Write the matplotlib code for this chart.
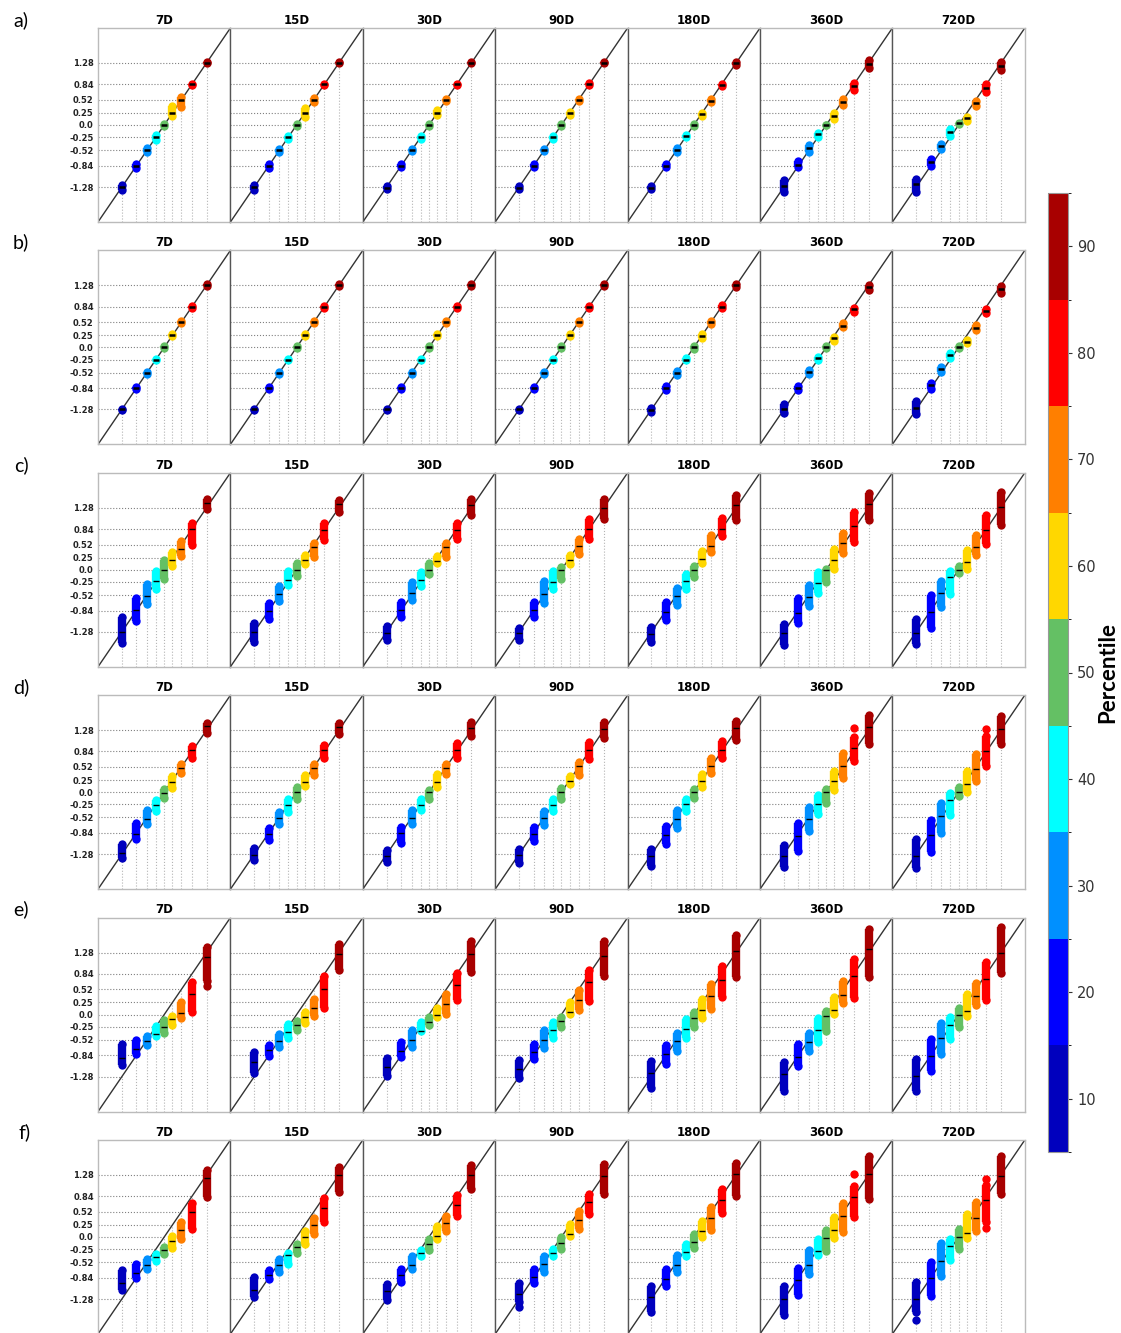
import numpy as np
import matplotlib.pyplot as plt
from matplotlib.colors import ListedColormap, BoundaryNorm
from matplotlib.cm import ScalarMappable

# --------------------------------------------------
# axes / labels

quantiles = [-1.28, -0.84, -0.52, -0.25, 0.0, 0.25, 0.52, 0.84, 1.28]
tick_labels = ['-1.28', '-0.84', '-0.52', '-0.25', '0.0', '0.25', '0.52', '0.84', '1.28']
percentiles = [10, 20, 30, 40, 50, 60, 70, 80, 90]
pct_colors = ['#0000BE', '#0000FF', '#0090FF', '#00FFFF', '#64C064',
              '#FFD700', '#FF7F00', '#FF0000', '#A80000']
windows = ['7D', '15D', '30D', '90D', '180D', '360D', '720D']
row_names = ['a)', 'b)', 'c)', 'd)', 'e)', 'f)']

# --------------------------------------------------
# data: per row, per window (7) -> 9 percentiles: lowest, highest, median

a_lo = [[-1.35, -0.89, -0.56, -0.30, -0.03, 0.18, 0.38, 0.83, 1.27],
        [-1.34, -0.89, -0.55, -0.28, -0.03, 0.17, 0.47, 0.83, 1.27],
        [-1.32, -0.87, -0.54, -0.28, -0.03, 0.21, 0.50, 0.83, 1.27],
        [-1.32, -0.87, -0.54, -0.28, -0.03, 0.21, 0.50, 0.83, 1.27],
        [-1.32, -0.87, -0.55, -0.25, -0.03, 0.19, 0.47, 0.81, 1.24],
        [-1.39, -0.87, -0.56, -0.25, -0.01, 0.12, 0.42, 0.72, 1.17],
        [-1.39, -0.85, -0.49, -0.22, 0.03, 0.09, 0.40, 0.69, 1.14]]
a_hi = [[-1.24, -0.81, -0.48, -0.21, 0.03, 0.40, 0.58, 0.85, 1.29],
        [-1.24, -0.81, -0.50, -0.23, 0.03, 0.36, 0.55, 0.85, 1.29],
        [-1.26, -0.81, -0.50, -0.23, 0.03, 0.30, 0.54, 0.85, 1.29],
        [-1.26, -0.81, -0.50, -0.23, 0.03, 0.26, 0.54, 0.86, 1.29],
        [-1.25, -0.80, -0.47, -0.21, 0.03, 0.25, 0.53, 0.85, 1.30],
        [-1.13, -0.74, -0.41, -0.16, 0.01, 0.25, 0.54, 0.87, 1.33],
        [-1.12, -0.70, -0.40, -0.09, 0.05, 0.17, 0.49, 0.85, 1.30]]
a_med = [[-1.28, -0.84, -0.52, -0.25, 0.0, 0.25, 0.52, 0.84, 1.28],
         [-1.28, -0.84, -0.52, -0.25, 0.0, 0.25, 0.52, 0.84, 1.28],
         [-1.29, -0.84, -0.52, -0.25, 0.0, 0.25, 0.52, 0.84, 1.28],
         [-1.29, -0.84, -0.52, -0.25, 0.0, 0.24, 0.52, 0.84, 1.28],
         [-1.29, -0.84, -0.51, -0.23, 0.0, 0.22, 0.50, 0.83, 1.27],
         [-1.26, -0.82, -0.48, -0.19, 0.01, 0.19, 0.48, 0.80, 1.25],
         [-1.22, -0.76, -0.43, -0.14, 0.04, 0.14, 0.45, 0.77, 1.22]]

b_lo = [[-1.30, -0.86, -0.54, -0.27, -0.02, 0.23, 0.50, 0.82, 1.26],
        [-1.30, -0.86, -0.54, -0.27, -0.02, 0.23, 0.50, 0.82, 1.26],
        [-1.30, -0.86, -0.54, -0.27, -0.02, 0.23, 0.50, 0.82, 1.26],
        [-1.30, -0.86, -0.54, -0.27, -0.02, 0.23, 0.50, 0.82, 1.26],
        [-1.33, -0.88, -0.56, -0.27, -0.03, 0.20, 0.49, 0.81, 1.25],
        [-1.35, -0.87, -0.54, -0.25, -0.02, 0.14, 0.42, 0.72, 1.19],
        [-1.37, -0.85, -0.51, -0.22, -0.02, 0.09, 0.36, 0.71, 1.13]]
b_hi = [[-1.26, -0.82, -0.50, -0.23, 0.02, 0.27, 0.54, 0.86, 1.30],
        [-1.26, -0.82, -0.50, -0.23, 0.02, 0.27, 0.54, 0.86, 1.30],
        [-1.26, -0.82, -0.50, -0.23, 0.02, 0.27, 0.54, 0.86, 1.30],
        [-1.26, -0.82, -0.50, -0.23, 0.02, 0.27, 0.54, 0.86, 1.30],
        [-1.24, -0.80, -0.49, -0.22, 0.03, 0.27, 0.55, 0.87, 1.31],
        [-1.17, -0.79, -0.47, -0.19, 0.02, 0.22, 0.51, 0.82, 1.28],
        [-1.11, -0.74, -0.40, -0.12, 0.02, 0.16, 0.46, 0.80, 1.26]]
b_med = [[-1.28, -0.84, -0.52, -0.25, 0.0, 0.25, 0.52, 0.84, 1.28],
         [-1.28, -0.84, -0.52, -0.25, 0.0, 0.25, 0.52, 0.84, 1.28],
         [-1.28, -0.84, -0.52, -0.25, 0.0, 0.25, 0.52, 0.84, 1.28],
         [-1.28, -0.84, -0.52, -0.25, 0.0, 0.25, 0.52, 0.84, 1.28],
         [-1.29, -0.84, -0.52, -0.25, 0.0, 0.24, 0.52, 0.84, 1.28],
         [-1.27, -0.83, -0.50, -0.21, 0.0, 0.19, 0.45, 0.79, 1.25],
         [-1.25, -0.78, -0.45, -0.16, 0.01, 0.12, 0.41, 0.76, 1.20]]

c_lo = [[-1.51, -1.05, -0.70, -0.39, -0.18, 0.07, 0.28, 0.52, 1.25],
        [-1.49, -1.01, -0.65, -0.32, -0.13, 0.11, 0.26, 0.61, 1.19],
        [-1.45, -0.97, -0.63, -0.33, -0.08, 0.13, 0.26, 0.63, 1.14],
        [-1.45, -0.97, -0.68, -0.39, -0.18, 0.11, 0.33, 0.63, 1.05],
        [-1.49, -1.04, -0.73, -0.39, -0.15, 0.13, 0.37, 0.69, 1.03],
        [-1.56, -1.09, -0.75, -0.48, -0.26, 0.02, 0.35, 0.57, 1.02],
        [-1.52, -1.20, -0.77, -0.49, -0.06, 0.01, 0.30, 0.53, 0.92]]
c_hi = [[-0.97, -0.59, -0.29, -0.02, 0.20, 0.37, 0.59, 0.97, 1.45],
        [-1.09, -0.68, -0.33, -0.02, 0.15, 0.30, 0.56, 0.97, 1.44],
        [-1.16, -0.66, -0.25, -0.04, 0.15, 0.29, 0.56, 0.97, 1.45],
        [-1.19, -0.66, -0.24, -0.02, 0.06, 0.31, 0.63, 1.04, 1.45],
        [-1.17, -0.66, -0.37, -0.09, 0.07, 0.39, 0.71, 1.06, 1.54],
        [-1.12, -0.59, -0.32, -0.05, 0.01, 0.42, 0.75, 1.19, 1.59],
        [-1.02, -0.51, -0.23, -0.02, 0.08, 0.40, 0.71, 1.12, 1.61]]
c_med = [[-1.29, -0.82, -0.53, -0.23, 0.0, 0.21, 0.43, 0.85, 1.37],
         [-1.29, -0.85, -0.49, -0.21, 0.0, 0.21, 0.46, 0.82, 1.35],
         [-1.31, -0.82, -0.48, -0.21, 0.0, 0.19, 0.47, 0.82, 1.33],
         [-1.31, -0.82, -0.49, -0.25, 0.0, 0.21, 0.49, 0.85, 1.27],
         [-1.33, -0.86, -0.53, -0.24, 0.0, 0.22, 0.50, 0.84, 1.33],
         [-1.31, -0.89, -0.56, -0.27, 0.0, 0.21, 0.55, 0.91, 1.36],
         [-1.31, -0.88, -0.48, -0.14, 0.0, 0.17, 0.48, 0.82, 1.29]]

d_lo = [[-1.35, -0.97, -0.66, -0.39, -0.11, 0.09, 0.40, 0.71, 1.23],
        [-1.40, -0.99, -0.66, -0.40, -0.15, 0.13, 0.35, 0.70, 1.19],
        [-1.43, -1.04, -0.65, -0.37, -0.15, 0.11, 0.37, 0.71, 1.16],
        [-1.45, -1.01, -0.68, -0.39, -0.15, 0.16, 0.35, 0.69, 1.12],
        [-1.52, -1.06, -0.73, -0.39, -0.11, 0.11, 0.40, 0.70, 1.07],
        [-1.54, -1.21, -0.79, -0.44, -0.22, 0.04, 0.30, 0.64, 0.99],
        [-1.57, -1.23, -0.84, -0.47, -0.07, 0.01, 0.24, 0.54, 0.99]]
d_hi = [[-1.07, -0.64, -0.37, -0.16, 0.06, 0.34, 0.59, 0.95, 1.43],
        [-1.16, -0.73, -0.40, -0.13, 0.11, 0.35, 0.59, 0.97, 1.43],
        [-1.19, -0.71, -0.37, -0.15, 0.04, 0.37, 0.59, 1.02, 1.45],
        [-1.18, -0.71, -0.39, -0.13, 0.08, 0.33, 0.63, 1.03, 1.45],
        [-1.17, -0.70, -0.37, -0.14, 0.06, 0.37, 0.70, 1.06, 1.47],
        [-1.09, -0.63, -0.31, -0.06, 0.06, 0.44, 0.80, 1.13, 1.59],
        [-0.97, -0.57, -0.23, -0.02, 0.10, 0.44, 0.79, 1.16, 1.57]]
d_med = [[-1.25, -0.86, -0.55, -0.27, -0.02, 0.22, 0.49, 0.86, 1.36],
         [-1.29, -0.86, -0.53, -0.26, 0.0, 0.22, 0.49, 0.86, 1.35],
         [-1.31, -0.84, -0.53, -0.26, 0.0, 0.22, 0.49, 0.86, 1.32],
         [-1.29, -0.87, -0.54, -0.27, 0.0, 0.24, 0.54, 0.87, 1.31],
         [-1.32, -0.89, -0.56, -0.25, 0.0, 0.24, 0.54, 0.87, 1.33],
         [-1.32, -0.91, -0.56, -0.24, 0.0, 0.23, 0.55, 0.91, 1.34],
         [-1.31, -0.88, -0.49, -0.16, 0.0, 0.16, 0.47, 0.84, 1.31]]

e_lo = [[-1.04, -0.82, -0.63, -0.44, -0.37, -0.22, -0.08, 0.06, 0.70],
        [-1.21, -0.85, -0.66, -0.49, -0.32, -0.18, -0.03, 0.14, 0.92],
        [-1.26, -0.88, -0.66, -0.33, -0.22, -0.04, 0.01, 0.30, 0.88],
        [-1.30, -0.92, -0.68, -0.49, -0.25, 0.01, 0.09, 0.28, 0.79],
        [-1.51, -1.02, -0.75, -0.49, -0.25, -0.06, 0.11, 0.37, 0.78],
        [-1.58, -1.06, -0.75, -0.56, -0.33, 0.02, 0.24, 0.35, 0.78],
        [-1.58, -1.16, -0.81, -0.51, -0.26, -0.03, 0.20, 0.30, 0.86]]
e_hi = [[-0.61, -0.53, -0.45, -0.23, -0.11, -0.02, 0.25, 0.68, 1.39],
        [-0.77, -0.63, -0.40, -0.20, -0.13, 0.06, 0.32, 0.79, 1.45],
        [-0.90, -0.57, -0.32, -0.16, -0.04, 0.13, 0.42, 0.85, 1.52],
        [-0.93, -0.60, -0.32, -0.16, -0.04, 0.25, 0.51, 0.92, 1.52],
        [-0.95, -0.63, -0.37, -0.09, 0.06, 0.33, 0.63, 1.01, 1.64],
        [-0.97, -0.61, -0.37, -0.08, 0.08, 0.37, 0.70, 1.14, 1.76],
        [-0.92, -0.51, -0.18, -0.04, 0.13, 0.42, 0.65, 1.08, 1.80]]
e_med = [[-0.89, -0.70, -0.55, -0.39, -0.25, -0.10, 0.03, 0.43, 1.19],
         [-0.98, -0.74, -0.54, -0.36, -0.21, -0.05, 0.14, 0.53, 1.24],
         [-1.09, -0.76, -0.52, -0.33, -0.15, 0.0, 0.22, 0.60, 1.25],
         [-1.12, -0.77, -0.53, -0.32, -0.14, 0.05, 0.31, 0.67, 1.20],
         [-1.20, -0.82, -0.55, -0.30, -0.08, 0.09, 0.38, 0.71, 1.31],
         [-1.22, -0.87, -0.57, -0.31, -0.03, 0.10, 0.41, 0.80, 1.35],
         [-1.26, -0.85, -0.49, -0.21, 0.0, 0.07, 0.39, 0.74, 1.27]]

f_lo = [[-1.09, -0.85, -0.66, -0.49, -0.35, -0.22, -0.04, 0.16, 0.82],
        [-1.23, -0.87, -0.73, -0.55, -0.32, -0.15, 0.06, 0.31, 0.92],
        [-1.30, -0.92, -0.65, -0.39, -0.26, -0.04, 0.13, 0.44, 1.00],
        [-1.35, -0.95, -0.72, -0.39, -0.25, 0.02, 0.16, 0.47, 0.88],
        [-1.54, -1.02, -0.72, -0.40, -0.22, 0.00, 0.14, 0.50, 0.85],
        [-1.61, -1.20, -0.77, -0.37, -0.29, -0.03, 0.11, 0.41, 0.79],
        [-1.54, -1.21, -0.80, -0.47, -0.25, -0.03, 0.13, 0.30, 0.88]]
f_hi = [[-0.68, -0.56, -0.45, -0.35, -0.20, 0.03, 0.30, 0.70, 1.39],
        [-0.82, -0.68, -0.46, -0.32, -0.15, 0.13, 0.40, 0.81, 1.44],
        [-0.97, -0.66, -0.40, -0.27, -0.05, 0.22, 0.44, 0.86, 1.49],
        [-0.95, -0.66, -0.40, -0.24, 0.01, 0.26, 0.53, 0.89, 1.50],
        [-1.00, -0.66, -0.37, -0.15, 0.06, 0.34, 0.62, 0.99, 1.52],
        [-1.00, -0.63, -0.27, -0.05, 0.15, 0.42, 0.71, 1.05, 1.66],
        [-0.92, -0.52, -0.13, -0.04, 0.17, 0.47, 0.73, 1.08, 1.68]]
f_med = [[-0.94, -0.74, -0.58, -0.41, -0.26, -0.08, 0.15, 0.52, 1.22],
         [-1.09, -0.78, -0.58, -0.38, -0.21, 0.0, 0.24, 0.60, 1.27],
         [-1.12, -0.79, -0.57, -0.34, -0.15, 0.03, 0.29, 0.67, 1.27],
         [-1.17, -0.82, -0.56, -0.34, -0.12, 0.07, 0.36, 0.72, 1.25],
         [-1.24, -0.86, -0.57, -0.31, -0.10, 0.12, 0.40, 0.77, 1.29],
         [-1.27, -0.88, -0.57, -0.29, -0.03, 0.14, 0.44, 0.82, 1.29],
         [-1.27, -0.84, -0.49, -0.19, 0.0, 0.09, 0.39, 0.77, 1.25]]

# isolated points: (row, window, percentile index, value)
outliers = [(3, 5, 7, 1.32), (3, 6, 7, 1.30), (4, 0, 8, 0.59),
            (5, 3, 0, -1.45), (5, 5, 7, 1.30), (5, 6, 0, -1.72),
            (5, 6, 7, 1.19), (5, 6, 7, 0.19)]

all_lo = [a_lo, b_lo, c_lo, d_lo, e_lo, f_lo]
all_hi = [a_hi, b_hi, c_hi, d_hi, e_hi, f_hi]
all_med = [a_med, b_med, c_med, d_med, e_med, f_med]

# --------------------------------------------------
# figure

W, H = 1121, 1333
fig = plt.figure(figsize=(W / 100, H / 100), dpi=100)


def box(x0, y0, w, h):
    return [x0 / W, 1 - (y0 + h) / H, w / W, h / H]


for r in range(6):
    top = 28 + 222.4 * r
    med_w = 1.8 if r < 2 else 1.0
    for c in range(7):
        ax = fig.add_axes(box(98 + 132.4 * c, top, 132.4, 194))
        ax.set_xlim(-2, 2)
        ax.set_ylim(-2, 2)

        ax.hlines(quantiles, -2, quantiles, colors='#808080',
                  linestyles=':', lw=0.8, zorder=1)
        ax.vlines(quantiles, -2, quantiles, colors='#b4b4b4',
                  linestyles=':', lw=0.8, zorder=1)
        ax.plot([-2, 2], [-2, 2], color='#333333', lw=1, zorder=2)

        for k in range(9):
            x = quantiles[k]
            ax.plot([x, x], [all_lo[r][c][k], all_hi[r][c][k]],
                    color=pct_colors[k], lw=6, marker='o', ms=6, mew=0,
                    solid_capstyle='butt', zorder=3)
            ax.plot(x, all_med[r][c][k], marker='_', color='black',
                    ms=4.5, mew=med_w, zorder=4)

        for (orow, ocol, ok, oval) in outliers:
            if orow == r and ocol == c:
                ax.plot(quantiles[ok], oval, 'o', color=pct_colors[ok],
                        ms=6, mew=0, zorder=3)

        ax.set_xticks([])
        if c == 0:
            ax.set_yticks(quantiles)
            ax.set_yticklabels(tick_labels, fontsize=6, fontweight='bold',
                               color='#222222')
            ax.tick_params(axis='y', length=0, pad=3)
        else:
            ax.set_yticks([])

        for s in ax.spines.values():
            s.set_color('#bbbbbb')
            s.set_linewidth(1)
        if c > 0:
            ax.spines['left'].set_color('#555555')

        ax.set_title(windows[c], fontsize=8.5, fontweight='bold', pad=3)

    fig.text((21 if r < 5 else 25) / W, 1 - (20 + 222.4 * r) / H,
             row_names[r], fontsize=14, family='Lato',
             ha='center', va='center')

# --------------------------------------------------
# colorbar

cax = fig.add_axes(box(1048, 193, 20, 959))
cmap = ListedColormap(pct_colors)
norm = BoundaryNorm(np.arange(5, 100, 10), cmap.N)
sm = ScalarMappable(norm=norm, cmap=cmap)
cbar = fig.colorbar(sm, cax=cax, ticks=percentiles)
cbar.ax.tick_params(labelsize=10.5, length=3, colors='#333333')
cbar.outline.set_edgecolor('#999999')
cbar.outline.set_linewidth(0.8)
cbar.set_label('Percentile', fontsize=16, fontweight='bold',
               family='Lato', labelpad=1)

fig.savefig('out.png', dpi=100, facecolor='white')
